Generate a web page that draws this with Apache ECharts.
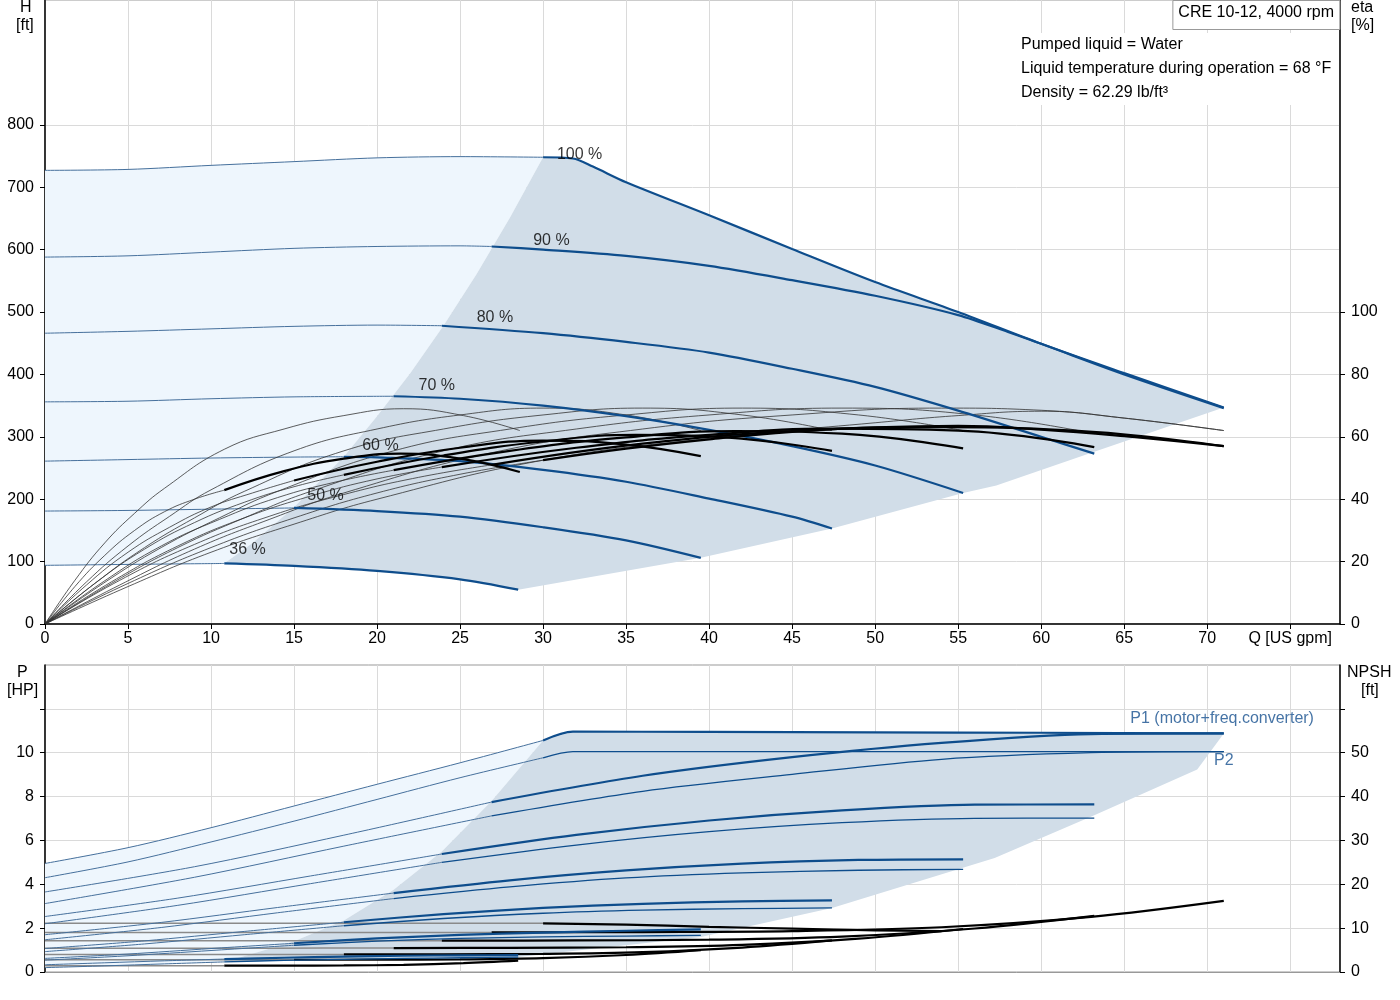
<!DOCTYPE html>
<html>
<head>
<meta charset="utf-8">
<script src="https://cdn.jsdelivr.net/npm/echarts@6.0.0/dist/echarts.min.js"></script>
<style>
html, body { margin: 0; padding: 0; background: #fff; }
#chart { width: 1400px; height: 1000px; }
</style>
</head>
<body>
<div id="chart"></div>
<script>
// speeds, min flow where each curve turns thick, label anchors
const speedLabels = ['36 %', '50 %', '60 %', '70 %', '80 %', '90 %', '100 %']
const minFlowQ = [10.8, 15, 18, 21, 23.9, 26.9, 30]
const labelQ = [12.2, 16.9, 20.2, 23.6, 27.1, 30.5, 32.2]
const labelH = [118.6, 205.1, 285.3, 381.4, 490.4, 613.8, 751.6]

// head curves H [ft] vs Q [US gpm]
const head36 = [[0, 94], [5, 95.5], [10.8, 97], [15, 93], [20, 85], [25, 71.5], [28.5, 55]]
const head50 = [[0, 181], [5, 182], [10, 184], [15, 186], [20, 181], [25, 172], [30, 155], [35, 134], [39.5, 106]]
const head60 = [[0, 261], [5, 263.5], [10, 266], [15, 267.5], [18, 268], [20, 267], [25, 261], [30, 247], [35, 228], [40, 201], [45, 172], [47.4, 153]]
const head70 = [[0, 356], [5, 357], [10, 361], [15, 364], [21, 365], [25, 361], [30, 350], [35, 333], [40, 311], [45, 285], [50, 254], [55.3, 210]]
const head80 = [[0, 466], [5, 469], [10, 473], [15, 477], [20, 479], [23.9, 478], [30, 466], [35, 452], [40, 435], [45, 409], [50, 380], [55, 342], [60, 300], [63.2, 273]]
const head90 = [[0, 588], [5, 590], [10, 596], [15, 602], [20, 605], [25, 606], [26.9, 605], [30, 600], [35, 590], [40, 574], [45, 551], [50, 526], [55, 495], [58, 468], [60, 449], [65, 400], [71, 346]]
const head100 = [[0, 727], [5, 728.5], [10, 735], [15, 741], [20, 747], [25, 749], [30, 748], [31.8, 746], [33, 733], [35, 708], [40, 655], [45, 601], [50, 548], [55, 500], [60, 449], [65, 402], [71, 347]]

// total efficiency eta [%]
const etaTotal36 = [[0, 0], [1.8, 12], [3.6, 22], [5.4, 30], [7.2, 36], [9, 40], [10.8, 42.9], [14.4, 49], [18, 53], [21.4, 54.6], [25, 53], [28.6, 48.7]]
const etaTotal50 = [[0, 0], [2.5, 12.5], [5, 23], [7.5, 31], [10, 37.5], [12.5, 42], [15, 46], [20, 52], [25, 56.5], [30, 58.8], [35, 57.5], [39.5, 53.8]]
const etaTotal60 = [[0, 0], [3, 13], [6, 24], [9, 32.5], [12, 39], [15, 44], [18, 47.8], [24, 54], [30, 58.5], [35.6, 60.6], [41, 59.8], [47.4, 55.5]]
const etaTotal70 = [[0, 0], [3.5, 13.5], [7, 25], [10.5, 33.5], [14, 40.5], [17.5, 45.5], [21, 49.3], [28, 55.5], [35, 59.8], [41.6, 61.8], [48, 61], [55.3, 56.3]]
const etaTotal80 = [[0, 0], [4, 13.5], [8, 25], [12, 34], [16, 41], [20, 46.5], [23.9, 50.3], [32, 56.5], [40, 60.6], [47.5, 62.6], [55, 62], [63.2, 56.7]]
const etaTotal90 = [[0, 0], [4.5, 14], [9, 25.5], [13.5, 34.5], [18, 41.5], [22.5, 47], [26.9, 51], [36, 57.8], [45, 61.8], [53.5, 63.1], [62, 62], [71, 57]]
const etaTotal100 = [[0, 0], [5, 13], [10, 24.5], [15, 34], [20, 42], [25, 48], [30, 52.5], [35, 56.2], [40, 59.2], [45, 61.6], [50, 63], [55, 63.5], [60, 62.3], [65, 60.2], [71, 57]]

// pump efficiency eta [%] (thin curves)
const etaPump36 = [[0, 0], [1.8, 14], [3.6, 26], [5.4, 35.5], [7.2, 43.5], [10.8, 56], [14.4, 62.5], [18, 66.8], [21.6, 69], [25.2, 66.8], [28.6, 62]]
const etaPump50 = [[0, 0], [2.5, 13.5], [5, 25], [7.5, 34.5], [10, 43], [15, 55.5], [20, 62.5], [25, 67], [30, 69.2], [35, 67], [39.5, 62]]
const etaPump60 = [[0, 0], [3, 13], [6, 24.5], [9, 34], [12, 42.5], [18, 55.5], [24, 62.5], [30, 67], [36, 69.2], [42, 67], [47.4, 62]]
const etaPump70 = [[0, 0], [3.5, 13], [7, 24.5], [10.5, 34], [14, 42.5], [21, 55.5], [28, 62.5], [35, 67], [42, 69.2], [49, 67], [55.3, 62]]
const etaPump80 = [[0, 0], [4, 13], [8, 24.5], [12, 34], [16, 42.5], [24, 55.5], [32, 62.5], [40, 67], [48, 69.2], [56, 67], [63.2, 61]]
const etaPump90 = [[0, 0], [4.5, 12.5], [9, 24], [13.5, 33.5], [18, 42], [27, 55], [36, 62.5], [45, 67], [54, 69.2], [60, 68.5], [65, 66], [71, 62]]
const etaPump100 = [[0, 0], [5, 12], [10, 23], [15, 32], [20, 40], [30, 52.5], [40, 59.5], [50, 64.5], [55, 66.8], [60, 68.2], [65, 66], [71, 62]]

// power P1 (motor+freq.converter) and P2 [HP]
const powerP1_36 = [[0, 0.33], [3.6, 0.42], [7.2, 0.51], [10.8, 0.59], [14.4, 0.65], [18, 0.70], [21.6, 0.74], [25.2, 0.76], [28.5, 0.77]]
const powerP2_36 = [[0, 0.20], [3.6, 0.28], [7.2, 0.37], [10.8, 0.46], [14.4, 0.53], [18, 0.58], [21.6, 0.62], [25.2, 0.65], [28.5, 0.68]]
const powerP1_50 = [[0, 0.62], [5, 0.82], [10, 1.07], [15, 1.31], [20, 1.53], [25, 1.69], [30, 1.80], [35, 1.88], [39.5, 1.94]]
const powerP2_50 = [[0, 0.54], [5, 0.74], [10, 0.98], [15, 1.22], [20, 1.41], [25, 1.53], [30, 1.60], [35, 1.64], [39.5, 1.67]]
const powerP1_60 = [[0, 1.07], [6, 1.42], [12, 1.85], [18, 2.27], [24, 2.64], [30, 2.92], [36, 3.11], [42, 3.22], [47.4, 3.27]]
const powerP2_60 = [[0, 0.93], [6, 1.28], [12, 1.70], [18, 2.11], [24, 2.44], [30, 2.68], [36, 2.82], [42, 2.89], [47.4, 2.92]]
const powerP1_70 = [[0, 1.70], [7, 2.26], [14, 2.94], [21, 3.60], [28, 4.18], [35, 4.63], [42, 4.94], [49, 5.11], [55.3, 5.14]]
const powerP2_70 = [[0, 1.47], [7, 2.03], [14, 2.70], [21, 3.35], [28, 3.88], [35, 4.29], [42, 4.52], [49, 4.64], [55.3, 4.68]]
const powerP1_80 = [[0, 2.53], [8, 3.37], [16, 4.38], [23.9, 5.38], [32, 6.25], [40, 6.91], [48, 7.37], [56, 7.63], [63.2, 7.64]]
const powerP2_80 = [[0, 2.20], [8, 3.04], [16, 4.03], [23.9, 5.00], [32, 5.79], [40, 6.40], [48, 6.81], [56, 7.01], [63.2, 7.02]]
const powerP1_90 = [[0, 3.65], [9, 4.80], [18, 6.24], [26.9, 7.75], [36, 8.95], [45, 9.80], [54, 10.45], [63, 10.85], [71, 10.88]]
const powerP2_90 = [[0, 3.12], [9, 4.32], [18, 5.74], [26.9, 7.12], [36, 8.24], [45, 9.01], [54, 9.70], [63, 10.0], [71, 10.05]]
const powerP1_100 = [[0, 4.95], [5, 5.67], [10, 6.58], [15, 7.57], [20, 8.56], [25, 9.54], [30, 10.56], [31.8, 10.96], [40, 10.95], [50, 10.93], [60, 10.91], [71, 10.88]]
const powerP2_100 = [[0, 4.30], [5, 5.02], [10, 5.93], [15, 6.88], [20, 7.87], [25, 8.86], [30, 9.77], [31.8, 10.05], [40, 10.05], [50, 10.05], [60, 10.05], [71, 10.05]]

// NPSH [ft]
const npsh36 = [[0, 1.44], [3.6, 1.44], [7.2, 1.44], [10.8, 1.45], [14.4, 1.46], [18, 1.49], [21.6, 1.63], [25.2, 2.01], [28.5, 2.59]]
const npsh50 = [[0, 2.78], [5, 2.78], [10, 2.78], [15, 2.79], [20, 2.81], [25, 2.88], [30, 3.15], [35, 3.88], [39.5, 5.0]]
const npsh60 = [[0, 4.0], [6, 4.0], [12, 4.0], [18, 4.01], [24, 4.05], [30, 4.14], [36, 4.54], [42, 5.58], [47.4, 7.2]]
const npsh70 = [[0, 5.44], [7, 5.44], [14, 5.44], [21, 5.46], [28, 5.51], [35, 5.64], [42, 6.17], [49, 7.6], [55.3, 9.8]]
const npsh80 = [[0, 7.1], [8, 7.1], [16, 7.1], [23.9, 7.14], [32, 7.2], [40, 7.36], [48, 8.06], [56, 9.92], [63.2, 12.8]]
const npsh90 = [[0, 9.0], [9, 9.0], [18, 9.0], [26.9, 9.03], [36, 9.11], [45, 9.32], [54, 10.2], [63, 12.56], [71, 16.2]]
const npsh100 = [[0, 11.1], [10, 11.1], [20, 11.1], [30, 11.1], [35, 10.8], [40, 10.3], [45, 9.9], [50, 9.5], [54, 9.3]]

// edges of the operating area
const minFlowH = [[10.8, 97], [12.5, 130], [15, 187], [18, 268], [20, 333], [22, 402], [24, 478], [26, 561], [28, 651], [30, 748]]
const maxFlowH = [[28.5, 55], [39.5, 106], [47.4, 153], [55.3, 210], [57.3, 222], [63.2, 276], [71, 347]]
const minFlowP = [[10.8, 0.46], [13, 0.95], [15, 1.4], [18, 2.35], [21, 3.75], [23.9, 5.5], [26.9, 7.8], [30, 10.56]]
const maxFlowP = [[28.5, 0.68], [39.5, 1.6], [47.4, 2.92], [57.2, 5.2], [63.2, 7.15], [69.4, 9.24], [71, 10.88]]

const heads = [head36, head50, head60, head70, head80, head90, head100]
const etaTotals = [etaTotal36, etaTotal50, etaTotal60, etaTotal70, etaTotal80, etaTotal90, etaTotal100]
const etaPumps = [etaPump36, etaPump50, etaPump60, etaPump70, etaPump80, etaPump90, etaPump100]
const powersP1 = [powerP1_36, powerP1_50, powerP1_60, powerP1_70, powerP1_80, powerP1_90, powerP1_100]
const powersP2 = [powerP2_36, powerP2_50, powerP2_60, powerP2_70, powerP2_80, powerP2_90, powerP2_100]
const npshs = [npsh36, npsh50, npsh60, npsh70, npsh80, npsh90, npsh100]

const FONT = "'Liberation Sans', Arial, sans-serif"
const BLUE = '#0e4d8c'
const BLUE_THIN = '#46709c'
const FILL_LIGHT = '#eef6fd'
const FILL_OP = '#d1dde8'
const GRID = '#dadada'

const chart = echarts.init(document.getElementById('chart'))

function part(pts, from, to) {
    return pts.filter(p => p[0] >= from && p[0] <= to)
}

function curve(pts, xi, yi, color, width, z, smooth) {
    return {
        type: 'line', xAxisIndex: xi, yAxisIndex: yi, data: pts,
        symbol: 'none', smooth: smooth, silent: true, animation: false, z: z,
        lineStyle: { color: color, width: width }
    }
}

// thin line up to the min flow, thick line after it
function twoPart(pts, qMin, xi, yi, thinColor, thinW, thickColor, thickW, smooth) {
    const end = pts[pts.length - 1][0]
    return [
        curve(part(pts, 0, qMin), xi, yi, thinColor, thinW, 3, smooth),
        curve(part(pts, qMin, end), xi, yi, thickColor, thickW, 4, smooth)
    ]
}

function area(pts, xi, yi, color) {
    return {
        type: 'custom', coordinateSystem: 'cartesian2d', xAxisIndex: xi, yAxisIndex: yi,
        silent: true, animation: false, z: 1, data: [[0, 0]],
        renderItem: (params, api) => ({
            type: 'polygon',
            shape: { points: pts.map(p => api.coord(p)) },
            style: { fill: color }
        })
    }
}

const lightTop = [...part(head100, 0, 30), ...minFlowH.slice().reverse(), ...part(head36, 0, 10.8).reverse()]
const opTop = [...minFlowH, ...part(head100, 30, 71), ...maxFlowH.slice().reverse(), ...part(head36, 10.8, 28.5).reverse()]
const lightBottom = [...part(powerP1_100, 0, 30), ...minFlowP.slice().reverse(), ...part(powerP2_36, 0, 10.8).reverse()]
const opBottom = [...minFlowP, ...part(powerP1_100, 30, 71), ...maxFlowP.slice().reverse(), ...part(powerP2_36, 10.8, 28.5).reverse()]

const series = [
    area(lightTop, 0, 0, FILL_LIGHT),
    area(opTop, 0, 0, FILL_OP),
    area(lightBottom, 1, 2, FILL_LIGHT),
    area(opBottom, 1, 2, FILL_OP)
]

heads.forEach((h, i) => series.push(...twoPart(h, minFlowQ[i], 0, 0, BLUE_THIN, 1, BLUE, 2.2, 0.3)))
etaPumps.forEach(e => series.push(curve(e, 0, 1, '#333', 0.8, 3, 0.45)))
etaTotals.forEach((e, i) => series.push(...twoPart(e, minFlowQ[i], 0, 1, '#333', 0.8, '#000', 2.2, 0.45)))

npshs.forEach((n, i) => series.push(...twoPart(n, minFlowQ[i], 1, 3, '#8a8a8a', 1.5, '#000', 2.2, 0.35)))
powersP2.forEach((p, i) => series.push(...twoPart(p, minFlowQ[i], 1, 2, BLUE_THIN, 1, BLUE, 1.3, 0.3)))
powersP1.forEach((p, i) => series.push(...twoPart(p, minFlowQ[i], 1, 2, BLUE_THIN, 1, BLUE, 2.2, 0.3)))

series.push({
    type: 'scatter', xAxisIndex: 0, yAxisIndex: 0, symbolSize: 1, silent: true, animation: false, z: 6,
    itemStyle: { color: 'transparent' },
    data: speedLabels.map((t, i) => [labelQ[i], labelH[i], t]),
    label: { show: true, position: 'inside', formatter: p => p.data[2], color: '#000', fontSize: 16, fontFamily: FONT }
})
series.push({
    type: 'scatter', xAxisIndex: 1, yAxisIndex: 2, symbolSize: 1, silent: true, animation: false, z: 6,
    itemStyle: { color: 'transparent' },
    data: [[70.9, 11.54, 'P1 (motor+freq.converter)'], [71, 9.62, 'P2']],
    label: { show: true, position: 'inside', formatter: p => p.data[2], color: '#17508f', fontSize: 16, fontFamily: FONT }
})

const labelStyle = { color: '#000', fontSize: 16, fontFamily: FONT, margin: 11 }

const option = {
    animation: false,
    backgroundColor: '#fff',
    title: [
        {
            text: 'CRE 10-12, 4000 rpm', right: 60, top: 0,
            padding: [5, 6, 9, 6], borderColor: '#999', borderWidth: 1, backgroundColor: '#fff',
            textStyle: { color: '#000', fontSize: 16, fontWeight: 'normal', fontFamily: FONT }
        },
        {
            text: 'Pumped liquid = Water\nLiquid temperature during operation = 68 °F\nDensity = 62.29 lb/ft³',
            left: 1015, top: 33, padding: [0, 6], backgroundColor: '#fff',
            textStyle: { color: '#000', fontSize: 16, fontWeight: 'normal', fontFamily: FONT, lineHeight: 24 }
        }
    ],
    graphic: [
        { type: 'text', left: 20, top: 0, style: { text: 'H', font: '16px ' + FONT, fill: '#000' } },
        { type: 'text', left: 16, top: 18, style: { text: '[ft]', font: '16px ' + FONT, fill: '#000' } },
        { type: 'text', left: 1351, top: 0, style: { text: 'eta', font: '16px ' + FONT, fill: '#000' } },
        { type: 'text', left: 1351, top: 18, style: { text: '[%]', font: '16px ' + FONT, fill: '#000' } },
        { type: 'text', left: 17, top: 665, style: { text: 'P', font: '16px ' + FONT, fill: '#000' } },
        { type: 'text', left: 7, top: 683, style: { text: '[HP]', font: '16px ' + FONT, fill: '#000' } },
        { type: 'text', left: 1347, top: 665, style: { text: 'NPSH', font: '16px ' + FONT, fill: '#000' } },
        { type: 'text', left: 1361, top: 683, style: { text: '[ft]', font: '16px ' + FONT, fill: '#000' } }
    ],
    grid: [
        { left: 45, right: 60, top: 0, height: 624, show: true, borderColor: '#999', borderWidth: 1 },
        { left: 45, right: 60, top: 665, height: 307, show: true, borderColor: '#999', borderWidth: 1 }
    ],
    xAxis: [
        {
            type: 'value', gridIndex: 0, min: 0, max: 78, interval: 5,
            axisLine: { onZero: false, lineStyle: { color: '#000', width: 1.5 } },
            axisTick: { length: 5, lineStyle: { color: '#000' } },
            axisLabel: Object.assign({}, labelStyle, { showMaxLabel: false, margin: 7, formatter: v => v === 75 ? 'Q [US gpm]' : String(v) }),
            splitLine: { lineStyle: { color: GRID } }
        },
        {
            type: 'value', gridIndex: 1, min: 0, max: 78, interval: 5,
            axisLine: { onZero: false, lineStyle: { color: '#999' } },
            axisTick: { show: false },
            axisLabel: { show: false },
            splitLine: { lineStyle: { color: GRID } }
        }
    ],
    yAxis: [
        {
            type: 'value', gridIndex: 0, min: 0, max: 1000, interval: 100,
            axisLine: { show: true, onZero: false, lineStyle: { color: '#000', width: 1.5 } },
            axisTick: { show: true, length: 5, customValues: [0, 100, 200, 300, 400, 500, 600, 700, 800], lineStyle: { color: '#000' } },
            axisLabel: Object.assign({ customValues: [0, 100, 200, 300, 400, 500, 600, 700, 800] }, labelStyle),
            splitLine: { lineStyle: { color: GRID } }
        },
        {
            type: 'value', gridIndex: 0, position: 'right', min: 0, max: 200, interval: 20,
            axisLine: { show: true, onZero: false, lineStyle: { color: '#000', width: 1.5 } },
            axisTick: { show: true, length: 5, customValues: [0, 20, 40, 60, 80, 100], lineStyle: { color: '#000' } },
            axisLabel: Object.assign({ customValues: [0, 20, 40, 60, 80, 100] }, labelStyle),
            splitLine: { show: false }
        },
        {
            type: 'value', gridIndex: 1, min: 0, max: 14, interval: 2,
            axisLine: { show: true, onZero: false, lineStyle: { color: '#000', width: 1.5 } },
            axisTick: { show: true, length: 5, customValues: [0, 2, 4, 6, 8, 10, 12], lineStyle: { color: '#000' } },
            axisLabel: Object.assign({ customValues: [0, 2, 4, 6, 8, 10] }, labelStyle),
            splitLine: { lineStyle: { color: GRID } }
        },
        {
            type: 'value', gridIndex: 1, position: 'right', min: 0, max: 70, interval: 10,
            axisLine: { show: true, onZero: false, lineStyle: { color: '#000', width: 1.5 } },
            axisTick: { show: true, length: 5, customValues: [0, 10, 20, 30, 40, 50, 60], lineStyle: { color: '#000' } },
            axisLabel: Object.assign({ customValues: [0, 10, 20, 30, 40, 50] }, labelStyle),
            splitLine: { show: false }
        }
    ],
    series: series
}

chart.setOption(option)
</script>
</body>
</html>
